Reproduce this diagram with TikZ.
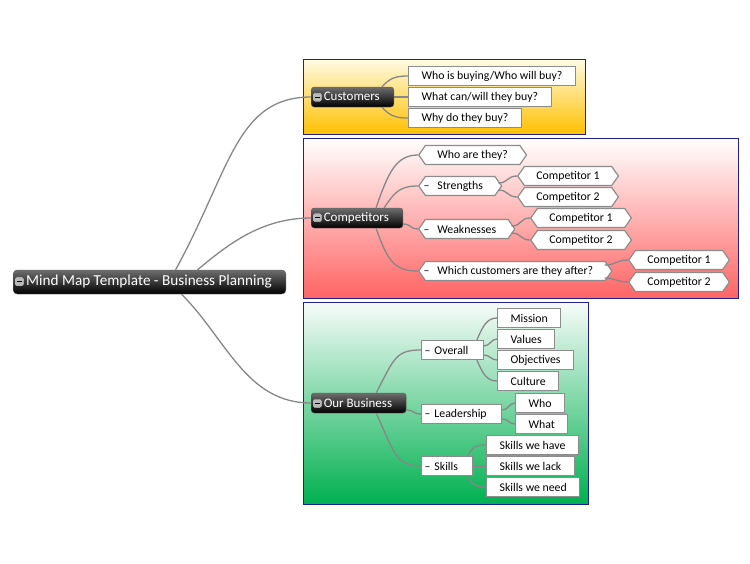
\documentclass[tikz,border=0pt]{standalone}
\usepackage{fontspec}
\setmainfont{Carlito}
\usetikzlibrary{shapes.symbols}

\definecolor{branchgray}{RGB}{135,135,135}
\definecolor{boxgray}{RGB}{140,140,140}
\definecolor{framenavy}{RGB}{30,30,150}
\definecolor{custtop}{RGB}{255,251,228}
\definecolor{custbottom}{RGB}{255,192,0}
\definecolor{comptop}{RGB}{255,255,255}
\definecolor{compbottom}{RGB}{255,100,100}
\definecolor{bustop}{RGB}{248,252,250}
\definecolor{busbottom}{RGB}{0,176,80}
\definecolor{topictop}{RGB}{110,110,110}

\newcommand{\collapseicon}{\tikz[baseline=-0.6ex,x=1pt,y=1pt]{\draw[draw=gray!40,fill=gray!55!white,rounded corners=1.5pt,line width=0.4pt] (-4,-4) rectangle (4,4); \draw[line width=1.3pt,black] (-2.3,0) -- (2.3,0);}}
\newcommand{\dashmark}[1]{\llap{\textendash\hspace{8pt}}#1}
\newcommand{\dashitem}[1]{\textendash\hspace{4pt}#1\hspace{12pt}\mbox{}}

\begin{document}
\begin{tikzpicture}[x=1pt,y=-1pt,
  topic/.style={draw=gray!70!black, rounded corners=3pt, top color=topictop, bottom color=black,
    text=white, font=\fontsize{13}{15}\selectfont, anchor=west, minimum height=20pt,
    inner xsep=2pt, inner ysep=0pt,
    execute at begin node={\collapseicon\,}, execute at end node={\hspace{12pt}}},
  idea/.style={draw=boxgray, line width=1.2pt, fill=white, font=\fontsize{11.8}{14}\selectfont,
    anchor=west, minimum height=19pt, inner xsep=13pt, inner ysep=0pt},
  tag/.style={idea, signal, signal to=west and east, signal pointer angle=110, inner xsep=12pt},
  branch/.style={draw=branchgray, line width=1.3pt},
  panel/.style={draw=framenavy, line width=1pt}]
  \useasboundingbox (0,0) rectangle (750,563);

  \draw[panel, top color=custtop, bottom color=custbottom] (303,59) rectangle (585,134);
  \draw[panel, top color=comptop, bottom color=compbottom] (303,138) rectangle (738,298);
  \draw[panel, top color=bustop, bottom color=busbottom] (303,302) rectangle (588,504);

  \node[topic, font=\fontsize{15.2}{18}\selectfont, minimum height=24pt, rounded corners=4pt] (root) at (13,282) {Mind Map Template - Business Planning};

  \node[topic] (cust) at (311,97) {Customers};
  \node[topic] (comp) at (311,218) {Competitors};
  \node[topic] (biz) at (311,403) {Our Business};

  \node[idea] (whobuy) at (408,76) {Who is buying/Who will buy?};
  \node[idea] (whatbuy) at (408,97) {What can/will they buy?};
  \node[idea] (whybuy) at (408,118) {Why do they buy?};

  \node[tag] (whoare) at (418,155) {Who are they?};
  \node[tag] (strong) at (418,186) {\dashmark{Strengths}};
  \node[tag] (strongA) at (517,176) {Competitor 1};
  \node[tag] (strongB) at (517,197) {Competitor 2};
  \node[tag] (weak) at (418,229) {\dashmark{Weaknesses}};
  \node[tag] (weakA) at (530,218) {Competitor 1};
  \node[tag] (weakB) at (530,240) {Competitor 2};
  \node[tag] (target) at (418,271) {\dashmark{Which customers are they after?}};
  \node[tag] (targetA) at (628,260) {Competitor 1};
  \node[tag] (targetB) at (628,282) {Competitor 2};

  \node[idea, inner xsep=3pt] (overall) at (421,350) {\dashitem{Overall}};
  \node[idea] (mission) at (497,318) {Mission};
  \node[idea] (values) at (497,339) {Values};
  \node[idea] (goals) at (497,360) {Objectives};
  \node[idea] (culture) at (497,381) {Culture};
  \node[idea, inner xsep=3pt] (lead) at (421,414) {\dashitem{Leadership}};
  \node[idea] (who) at (515,403) {Who};
  \node[idea] (what) at (515,424) {What};
  \node[idea, inner xsep=3pt] (skills) at (421,466) {\dashitem{Skills}};
  \node[idea] (have) at (486,445) {Skills we have};
  \node[idea] (lack) at (486,466) {Skills we lack};
  \node[idea] (need) at (486,487) {Skills we need};

  \draw[branch] ([xshift=26pt]root.north) .. controls +(55,-100) and +(-75,0) .. (cust.west);
  \draw[branch] ([xshift=48pt]root.north) .. controls +(30,-25) and +(-50,0) .. (comp.west);
  \draw[branch] ([xshift=32pt]root.south) .. controls +(45,45) and +(-65,0) .. (biz.west);

  \draw[branch] ([xshift=-12pt]cust.north east) .. controls +(8,-9) and +(-12,0) .. (whobuy.west);
  \draw[branch] (cust.east) -- (whatbuy.west);
  \draw[branch] ([xshift=-12pt]cust.south east) .. controls +(8,9) and +(-12,0) .. (whybuy.west);

  \draw[branch] ([xshift=-27pt]comp.north east) .. controls +(12,-35) and +(-22,0) .. (whoare.west);
  \draw[branch] ([xshift=-19pt]comp.north east) .. controls +(10,-14) and +(-20,0) .. (strong.west);
  \draw[branch] ([yshift=-6pt]comp.east) .. controls +(8,0) and +(-8,0) .. (weak.west);
  \draw[branch] ([xshift=-27pt]comp.south east) .. controls +(12,35) and +(-22,0) .. (target.west);

  \draw[branch] ([shift={(-4pt,3pt)}]strong.east) .. controls +(10,0) and +(-10,0) .. (strongA.west);
  \draw[branch] ([shift={(-4pt,-4pt)}]strong.east) .. controls +(10,0) and +(-10,0) .. (strongB.west);
  \draw[branch] ([shift={(-4pt,3pt)}]weak.east) .. controls +(10,0) and +(-10,0) .. (weakA.west);
  \draw[branch] ([shift={(-4pt,-4pt)}]weak.east) .. controls +(10,0) and +(-10,0) .. (weakB.west);
  \draw[branch] ([shift={(-8pt,6pt)}]target.east) .. controls +(12,0) and +(-12,0) .. (targetA.west);
  \draw[branch] ([shift={(-8pt,-7pt)}]target.east) .. controls +(12,0) and +(-12,0) .. (targetB.west);

  \draw[branch] ([xshift=-30pt]biz.north east) .. controls +(18,-35) and +(-25,0) .. (overall.west);
  \draw[branch] ([yshift=-7pt]biz.east) .. controls +(8,0) and +(-8,0) .. (lead.west);
  \draw[branch] ([xshift=-30pt]biz.south east) .. controls +(18,40) and +(-25,0) .. (skills.west);

  \draw[branch] ([xshift=-7pt]overall.north east) .. controls +(6,-14) and +(-10,0) .. (mission.west);
  \draw[branch] ([yshift=4pt]overall.east) .. controls +(6,0) and +(-6,0) .. (values.west);
  \draw[branch] ([yshift=-5pt]overall.east) .. controls +(6,0) and +(-6,0) .. (goals.west);
  \draw[branch] ([xshift=-7pt]overall.south east) .. controls +(6,14) and +(-10,0) .. (culture.west);
  \draw[branch] ([yshift=4pt]lead.east) .. controls +(6,0) and +(-6,0) .. (who.west);
  \draw[branch] ([yshift=-5pt]lead.east) .. controls +(6,0) and +(-6,0) .. (what.west);
  \draw[branch] ([xshift=-6pt]skills.north east) .. controls +(6,-10) and +(-10,0) .. (have.west);
  \draw[branch] (skills.east) -- (lack.west);
  \draw[branch] ([xshift=-6pt]skills.south east) .. controls +(6,10) and +(-10,0) .. (need.west);
\end{tikzpicture}
\end{document}
